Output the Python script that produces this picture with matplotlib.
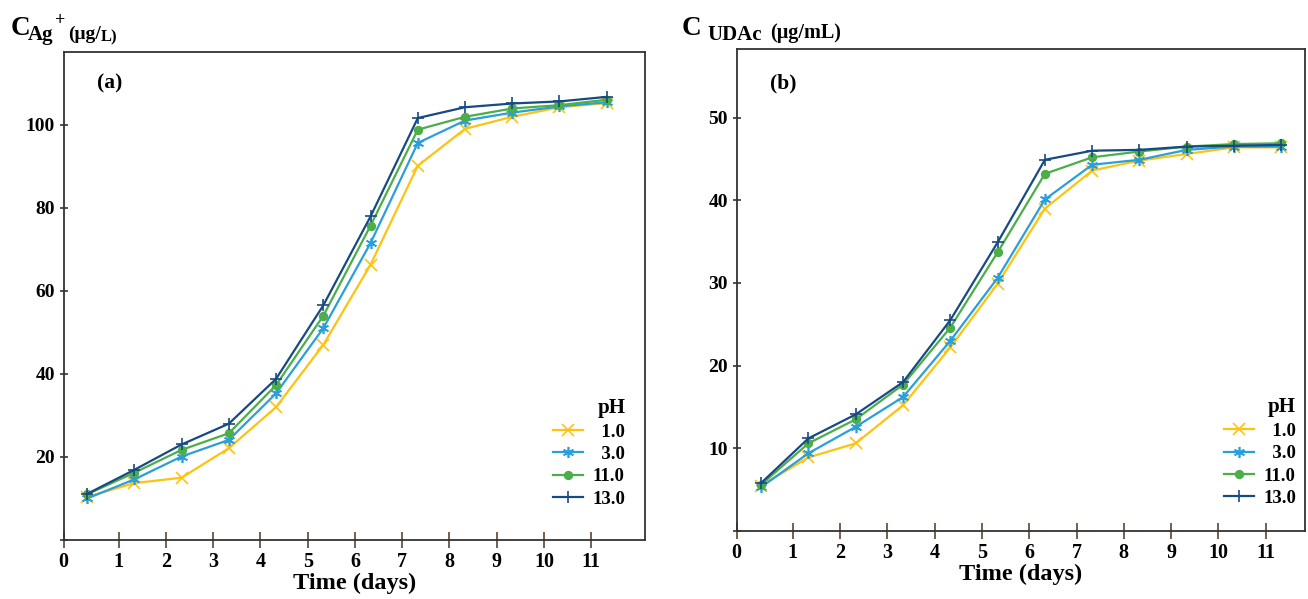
import matplotlib
matplotlib.use('Agg')
import matplotlib.pyplot as plt

# ---------------- data ----------------
time_days = [0.33, 1.33, 2.33, 3.33, 4.33, 5.33, 6.33, 7.33, 8.33, 9.33, 10.33, 11.33]
ph_labels = ['\u20071.0', '\u20073.0', '11.0', '13.0']

ag_ph1 = [10.4, 13.7, 15.0, 22.1, 32.0, 47.0, 66.3, 90.1, 99.0, 101.9, 104.2, 105.2]
ag_ph3 = [10.0, 14.6, 20.1, 24.1, 35.3, 51.0, 71.5, 95.6, 101.0, 102.9, 104.4, 105.4]
ag_ph11 = [11.0, 16.2, 21.7, 25.7, 37.3, 54.0, 75.7, 98.8, 101.9, 103.9, 104.7, 106.0]
ag_ph13 = [11.1, 16.9, 23.0, 28.0, 38.8, 56.5, 77.9, 101.6, 104.2, 105.1, 105.6, 106.7]

udac_ph1 = [5.5, 8.9, 10.6, 15.2, 22.2, 29.9, 39.0, 43.6, 44.8, 45.6, 46.4, 46.4]
udac_ph3 = [5.3, 9.4, 12.6, 16.2, 23.0, 30.6, 40.1, 44.3, 44.9, 46.1, 46.5, 46.5]
udac_ph11 = [5.6, 10.6, 13.5, 17.7, 24.6, 33.7, 43.2, 45.2, 45.9, 46.5, 46.8, 46.9]
udac_ph13 = [5.8, 11.2, 14.1, 18.0, 25.5, 34.9, 44.9, 46.0, 46.1, 46.5, 46.6, 46.7]

x_tick_labels = [str(i) for i in range(12)]
ag_yticks = [0, 20, 40, 60, 80, 100]
udac_yticks = [0, 10, 20, 30, 40, 50]

# ---------------- style ----------------
plt.rcParams['font.family'] = ['Liberation Serif', 'DejaVu Serif']
plt.rcParams['font.weight'] = 'bold'

colors = ['#FFC20E', '#2A9FDA', '#4CAE48', '#174A84']
markers = ['x', (6, 2, 0), 'o', '+']
msizes = [8, 8, 5.5, 9]

W, H = 1308, 599
fig = plt.figure(figsize=(W / 100, H / 100), dpi=100)


def px_axes(l, r, t, b):
    return fig.add_axes([l / W, (H - b) / H, (r - l) / W, (b - t) / H])


ax_a = px_axes(63.5, 645, 52, 540)
ax_b = px_axes(736.5, 1305, 49, 531)

spine_col = '#333333'


def style_axes(ax, xlim, ylim, yticks, series, legend_anchor):
    for vals, c, m, ms, lab in zip(series, colors, markers, msizes, ph_labels):
        ax.plot(time_days, vals, color=c, lw=1.6, marker=m, ms=ms,
                mew=1.2, label=lab)
    ax.set_xlim(*xlim)
    ax.set_ylim(*ylim)
    xt = [xlim[0]] + list(range(1, 12))
    ax.set_xticks(xt)
    ax.set_xticklabels(x_tick_labels, fontsize=14.5, fontweight='bold')
    ax.set_yticks(yticks)
    ax.set_yticklabels([''] + [str(v) for v in yticks[1:]], fontsize=14,
                       fontweight='bold')
    ax.tick_params(axis='x', direction='inout', length=11, width=1.2,
                   color='#5a4632', pad=3)
    ax.tick_params(axis='y', direction='inout', length=6, width=1.2,
                   color=spine_col, pad=3)
    for s in ax.spines.values():
        s.set_color(spine_col)
        s.set_linewidth(1.3)
    ax.set_xlabel('Time (days)', fontsize=17.5, fontweight='bold', labelpad=1)
    leg = ax.legend(loc='lower right', bbox_to_anchor=legend_anchor,
                    frameon=False, fontsize=13.5, title='pH',
                    title_fontproperties={'size': 15, 'weight': 'bold'},
                    alignment='right', handlelength=1.6, handletextpad=0.5,
                    labelspacing=0.28, borderpad=0, borderaxespad=0)
    for t in leg.get_texts():
        t.set_fontweight('bold')


style_axes(ax_a, (-0.17, 12.14), (0, 117.5), ag_yticks,
           [ag_ph1, ag_ph3, ag_ph11, ag_ph13], (0.966, 0.066))
style_axes(ax_b, (-0.19, 11.83), (0, 58.3), udac_yticks,
           [udac_ph1, udac_ph3, udac_ph11, udac_ph13], (0.984, 0.05))

ax_a.text(0.08, 0.936, '(a)', transform=ax_a.transAxes, fontsize=15.5,
          fontweight='bold', ha='center', va='center')
ax_b.text(0.083, 0.928, '(b)', transform=ax_b.transAxes, fontsize=15.5,
          fontweight='bold', ha='center', va='center')


def ftext(x, y, s, size):
    fig.text(x / W, 1 - y / H, s, fontsize=size, fontweight='bold',
             ha='left', va='baseline')


# y-axis title of panel (a): C_Ag+ (μg/L)
ftext(11, 35, 'C', 19.5)
ftext(28, 40, 'Ag', 15)
ftext(55, 25, '+', 13)
ftext(68, 39, '(\u03bcg/', 14)
ftext(101, 41, 'L)', 12)

# y-axis title of panel (b): C UDAc (μg/mL)
ftext(682, 35, 'C', 19.5)
ftext(707, 40, 'UDAc', 15)
ftext(770, 38, '(\u03bcg/mL)', 14.5)

fig.savefig('out.png', dpi=100)
